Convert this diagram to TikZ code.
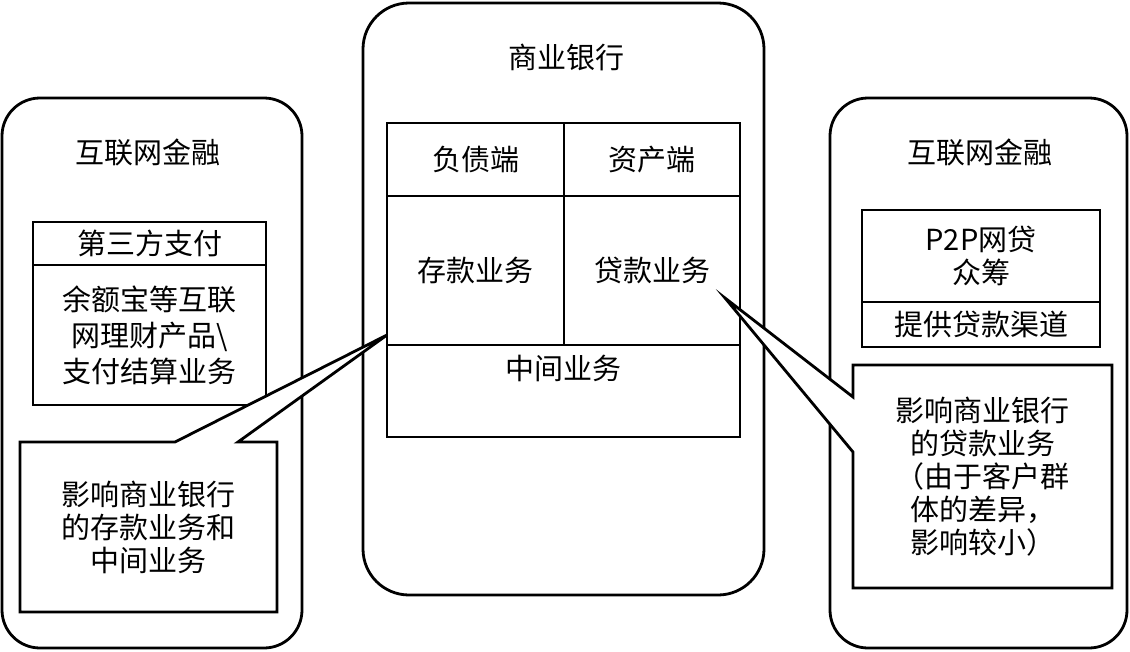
\documentclass[tikz,border=0pt]{standalone}
\usepackage{fontspec}
\setmainfont{Noto Sans CJK SC}
\usetikzlibrary{positioning,calc}

\tikzset{
  panel/.style={draw, line width=2.8pt, rounded corners=38pt},
  cell/.style={draw, line width=2.8pt, outer sep=0pt, inner sep=0pt, align=center},
  notebox/.style={minimum width=257pt, minimum height=170pt, outer sep=0pt},
  noteline/.style={draw, fill=white, line width=2.8pt, line join=miter},
}

\begin{document}
\begin{tikzpicture}[x=1pt, y=-1pt, every node/.style={font=\fontsize{29}{33}\selectfont}]
\useasboundingbox (0,0) rectangle (1130,651);

% outer panels
\node[panel, minimum width=300pt, minimum height=550pt] (leftpanel) at (152,373) {};
\node[panel, minimum width=401pt, minimum height=592pt, rounded corners=46pt] (bankpanel) at (563.5,299) {};
\node[panel, minimum width=297pt, minimum height=550pt] (rightpanel) at (978.5,373) {};

\node (lefttitle) at (148,152) {互联网金融};
\node (banktitle) at (566,57) {商业银行};
\node (righttitle) at (980,152) {互联网金融};

% left side
\node[cell, minimum width=233pt, minimum height=43pt] (pay) at (149.5,243.5) {第三方支付};
\node[cell, minimum width=233pt, minimum height=140pt, below=0pt of pay, font=\fontsize{29}{36}\selectfont] (wealth) {余额宝等互联\\网理财产品\textbackslash\\支付结算业务};

% bank grid
\node[cell, minimum width=177pt, minimum height=73pt] (liab) at (475.5,159.5) {负债端};
\node[cell, minimum width=176pt, minimum height=73pt, right=0pt of liab] (asset) {资产端};
\node[cell, minimum width=177pt, minimum height=149pt, below=0pt of liab] (deposit) {存款业务};
\node[cell, minimum width=176pt, minimum height=149pt, below=0pt of asset] (loan) {贷款业务};
\node[cell, minimum width=353pt, minimum height=92pt, anchor=north west] (mid) at (deposit.south west) {};
\node (midtext) at ($(mid.north)+(0,23)$) {中间业务};

% right side
\node[cell, minimum width=238pt, minimum height=92pt] (p2p) at (981,256) {P2P网贷\\众筹};
\node[cell, minimum width=238pt, minimum height=45pt, below=0pt of p2p] (channel) {提供贷款渠道};

% callouts
\node[notebox] (leftnote) at (148.5,527) {};
\coordinate (lefttip) at ($(deposit.south west)+(0,-10)$);
\coordinate (leftbaseA) at ($(leftnote.north west)+(155,0)$);
\coordinate (leftbaseB) at ($(leftnote.north west)+(218,0)$);
\draw[noteline] (leftnote.north west) -- (leftbaseA) -- (lefttip) -- (leftbaseB)
  -- (leftnote.north east) -- (leftnote.south east) -- (leftnote.south west) -- cycle;
\node[align=center] (leftnotetext) at (leftnote) {影响商业银行\\的存款业务和\\中间业务};

\node[notebox, minimum width=259pt, minimum height=223pt] (rightnote) at (982.5,476.5) {};
\coordinate (righttip) at ($(loan.east)+(-15,27.5)$);
\coordinate (rightbaseA) at ($(rightnote.north west)+(0,32)$);
\coordinate (rightbaseB) at ($(rightnote.north west)+(0,87)$);
\draw[noteline] (rightnote.north west) -- (rightbaseA) -- (righttip) -- (rightbaseB)
  -- (rightnote.south west) -- (rightnote.south east) -- (rightnote.north east) -- cycle;
\node[align=center] (rightnotetext) at (rightnote) {影响商业银行\\的贷款业务\\（由于客户群\\体的差异，\\影响较小）};
\end{tikzpicture}
\end{document}
